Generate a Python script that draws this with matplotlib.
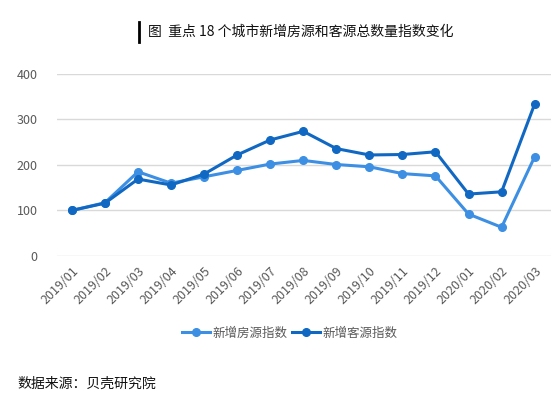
import matplotlib
matplotlib.use("Agg")
import matplotlib.pyplot as plt
from matplotlib.lines import Line2D

plt.rcParams['font.family'] = ['Noto Sans CJK SC', 'DejaVu Sans']

months = ["2019/01", "2019/02", "2019/03", "2019/04", "2019/05", "2019/06",
          "2019/07", "2019/08", "2019/09", "2019/10", "2019/11", "2019/12",
          "2020/01", "2020/02", "2020/03"]
house_index = [100, 117, 185, 160, 174, 188, 202, 210, 201, 196, 181, 176, 92, 63, 218]
buyer_index = [100, 116, 169, 156, 180, 222, 255, 274, 236, 222, 223, 229, 136, 141, 334]
series_names = ["新增房源指数", "新增客源指数"]

light_blue = "#3c8fe3"
dark_blue = "#1068c2"
text_gray = "#595959"

fig = plt.figure(figsize=(5.59, 3.98), dpi=100)
ax = fig.add_axes([0.102, 0.357, 0.884, 0.457])

x = list(range(len(months)))
ax.plot(x, house_index, color=light_blue, marker='o', linewidth=2.2, markersize=5.5, label=series_names[0], zorder=3)
ax.plot(x, buyer_index, color=dark_blue, marker='o', linewidth=2.2, markersize=5.5, label=series_names[1], zorder=4)

ax.set_ylim(0, 400)
ax.set_yticks([0, 100, 200, 300, 400])
ax.set_xlim(-0.45, len(months) - 0.5)
ax.set_xticks(x)
ax.set_xticklabels(months, rotation=45, ha='right', rotation_mode='anchor')
ax.tick_params(axis='both', length=0, colors=text_gray, labelsize=9)
ax.tick_params(axis='x', pad=6)
ax.tick_params(axis='y', pad=14)
ax.grid(axis='y', color='#d9d9d9', linewidth=1)
ax.set_axisbelow(True)
for s in ax.spines.values():
    s.set_visible(False)

fig.text(0.265, 0.92, "图  重点 18 个城市新增房源和客源总数量指数变化", fontsize=10, color='#111111', va='center', ha='left')
fig.add_artist(Line2D([0.249, 0.249], [0.895, 0.945], color='black', linewidth=2))

fig.legend(loc='center', bbox_to_anchor=(0.518, 0.163), ncol=2, frameon=False, fontsize=9,
           handlelength=2.2, handletextpad=0.2, columnspacing=0.4, labelcolor=text_gray)

fig.text(0.032, 0.035, "数据来源：贝壳研究院", fontsize=10, color='#111111', ha='left', va='center')

plt.savefig("out.png", dpi=100)
